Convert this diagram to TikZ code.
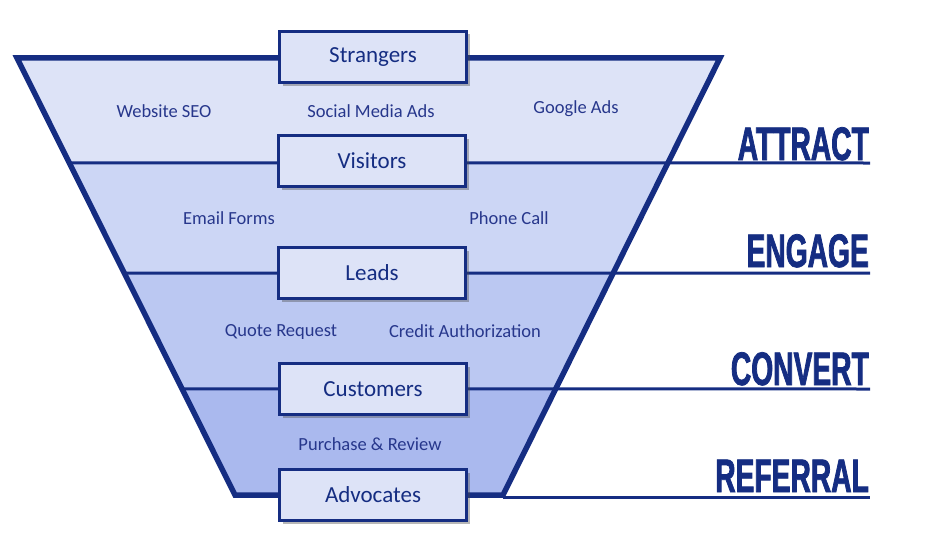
\documentclass[tikz,border=0pt]{standalone}
\usepackage{fontspec}
\setmainfont{Carlito}
\newfontfamily\goalfont[FakeStretch=0.6,FakeBold=1.6]{Liberation Sans}
\usetikzlibrary{calc,shadows}
\definecolor{navy}{HTML}{152D82}
\definecolor{inkblue}{HTML}{27378C}
\definecolor{bandA}{HTML}{DDE3F7}
\definecolor{bandB}{HTML}{CCD6F5}
\definecolor{bandC}{HTML}{BBC8F2}
\definecolor{bandD}{HTML}{AAB9EE}
\definecolor{boxbg}{HTML}{DDE3F7}

\begin{document}
\begin{tikzpicture}[x=1pt,y=-1pt,
  stage/.style={draw=navy,fill=boxbg,line width=2.4pt,minimum width=187pt,minimum height=51pt,
                font=\fontsize{23}{26}\selectfont,text=navy,
                drop shadow={shadow xshift=3pt,shadow yshift=-3pt,fill=black!70,opacity=0.4}},
  tag/.style={font=\fontsize{18.5}{21}\selectfont,text=inkblue},
  goal/.style={anchor=base east,inner sep=0pt,text=navy,
               font=\goalfont\bfseries\fontsize{47}{50}\selectfont},
  sep/.style={draw=navy,line width=3pt}]

  \useasboundingbox (0,0) rectangle (937,543);

  % funnel corners
  \coordinate (tl) at (17,58);
  \coordinate (tr) at (720,58);
  \coordinate (br) at (503,495);
  \coordinate (bl) at (235,495);

  % bands
  \begin{scope}
    \clip (tl) -- (tr) -- (br) -- (bl) -- cycle;
    \fill[bandA] (0,58)  rectangle (937,163);
    \fill[bandB] (0,163) rectangle (937,273);
    \fill[bandC] (0,273) rectangle (937,389);
    \fill[bandD] (0,389) rectangle (937,495);
  \end{scope}

  % stage rules
  \coordinate (r1) at (870,163);
  \coordinate (r2) at (870,273);
  \coordinate (r3) at (870,389);
  \coordinate (r4) at (870,497);
  \draw[sep] ($(tl)!0.240!(bl)$) -- (r1);
  \draw[sep] ($(tl)!0.492!(bl)$) -- (r2);
  \draw[sep] ($(tl)!0.757!(bl)$) -- (r3);
  \draw[sep] (br|-r4) -- (r4);

  % funnel outline
  \draw[navy,line width=5.5pt,line join=miter] (tl) -- (tr) -- (br) -- (bl) -- cycle;

  % stages
  \node[stage] (str)  at (373,57)  {Strangers};
  \node[stage] (vis)  at (372,161) {Visitors};
  \node[stage] (lead) at (372,273) {Leads};
  \node[stage] (cust) at (373,389) {Customers};
  \node[stage] (adv)  at (373,495) {Advocates};

  % channels
  \node[tag] (seo)  at (164,111) {Website SEO};
  \node[tag] (soc)  at (371,111) {Social Media Ads};
  \node[tag] (gads) at (576,109) {Google Ads};
  \node[tag] (mail) at (229,218) {Email Forms};
  \node[tag] (call) at (509,218) {Phone Call};
  \node[tag] (quot) at (281,332) {Quote Request};
  \node[tag] (cred) at (465,331) {Credit Authorization};
  \node[tag] (buy)  at (370,444) {Purchase \& Review};

  % goals
  \node[goal] (att)  at (869,160) {ATTRACT};
  \node[goal] (eng)  at (869,267) {ENGAGE};
  \node[goal] (conv) at (869,385) {CONVERT};
  \node[goal] (ref)  at (869,492) {REFERRAL};
\end{tikzpicture}
\end{document}
